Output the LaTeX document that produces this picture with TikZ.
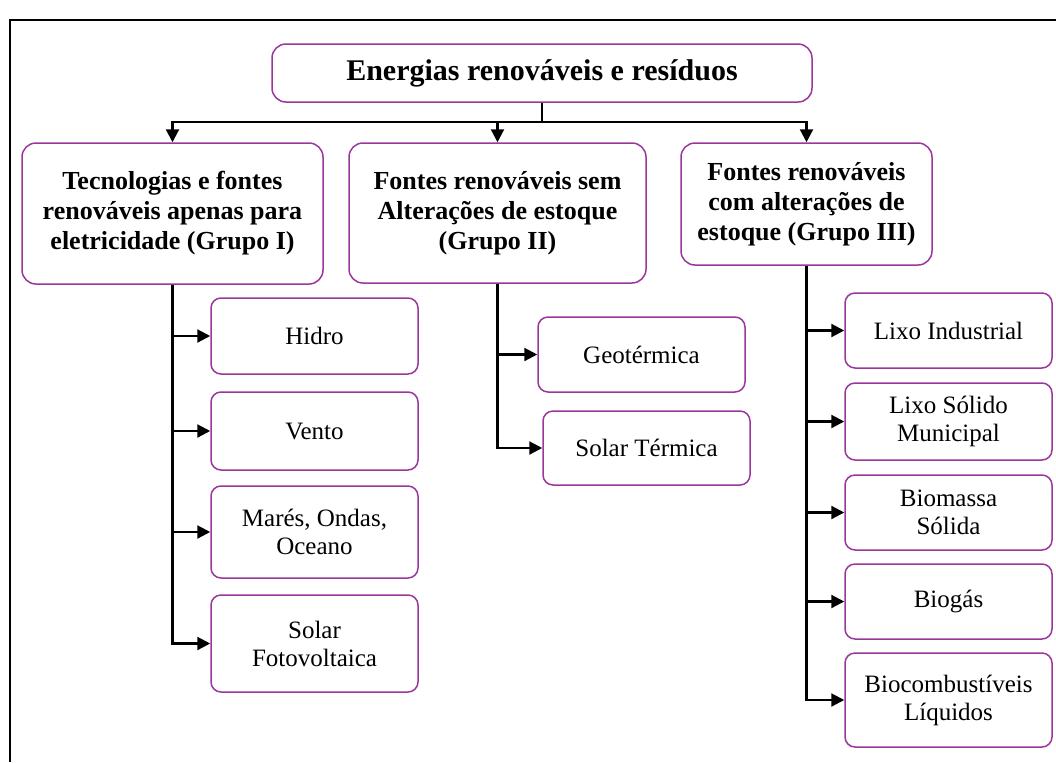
\documentclass[tikz,border=0pt]{standalone}
\usepackage{fontspec}
\setmainfont{Liberation Serif}
\usepackage{xcolor}
\usetikzlibrary{arrows.meta,positioning}
\definecolor{boxpurple}{RGB}{155,55,155}

\begin{document}
\begin{tikzpicture}[
    x=0.5pt, y=-0.5pt,
    groupbox/.style={draw=boxpurple,line width=0.75pt,rounded corners=7pt,align=center,
        font=\fontsize{13}{15}\selectfont\bfseries,inner sep=0pt},
    leafbox/.style={draw=boxpurple,line width=0.75pt,rounded corners=5pt,align=center,
        font=\fontsize{12.5}{14}\selectfont,inner sep=0pt,minimum width=103.5pt},
    arrow/.style={-{Triangle[length=6.5pt,width=6.5pt]},line width=1.1pt}
]
    \useasboundingbox (0,0) rectangle (1056,762);
    % Frame lines (left and top)
    \draw[line width=0.9pt] (10,762) -- (10,20) -- (1056,20);

    % Root
    \node[groupbox,font=\fontsize{15}{17}\selectfont\bfseries,minimum width=270pt,minimum height=29pt] (root) at (542,73) {Energias renováveis e resíduos};

    % Groups
    \node[groupbox,minimum width=150.5pt,minimum height=70.5pt] (g1) at (172.5,213.5) {Tecnologias e fontes\\renováveis apenas para\\eletricidade (Grupo I)};
    \node[groupbox,minimum width=148.5pt,minimum height=70pt] (g2) at (497.5,213) {Fontes renováveis sem\\Alterações de estoque\\(Grupo II)};
    \node[groupbox,minimum width=125.5pt,minimum height=61pt] (g3) at (806.5,204) {Fontes renováveis\\com alterações de\\estoque (Grupo III)};

    % Group I sources
    \node[leafbox,minimum height=38pt] (hidro) at (314.5,336) {Hidro};
    \node[leafbox,minimum height=39pt] (vento) at (314.5,431) {Vento};
    \node[leafbox,minimum height=46pt] (mares) at (314.5,532) {Marés, Ondas,\\Oceano};
    \node[leafbox,minimum height=48.5pt] (solarfv) at (314.5,643.5) {Solar\\Fotovoltaica};

    % Group II sources
    \node[leafbox,minimum height=37.5pt] (geo) at (641.5,354.5) {Geotérmica};
    \node[leafbox,minimum height=37pt] (solarterm) at (646.5,448) {Solar Térmica};

    % Group III sources
    \node[leafbox,minimum height=37.5pt] (lixoind) at (948.5,330.5) {Lixo Industrial};
    \node[leafbox,minimum height=38.5pt] (lixomun) at (948.5,421.5) {Lixo Sólido\\Municipal};
    \node[leafbox,minimum height=37.5pt] (biomassa) at (948.5,512.5) {Biomassa\\Sólida};
    \node[leafbox,minimum height=37.5pt] (biogas) at (948.5,601.5) {Biogás};
    \node[leafbox,minimum height=47pt] (biocomb) at (948.5,700) {Biocombustíveis\\Líquidos};

    % Root to groups
    \coordinate (bus) at (542,122);
    \draw[line width=1.1pt] (root) -- (bus);
    \draw[arrow] (bus) -| (g1);
    \draw[arrow] (bus) -| (g2);
    \draw[arrow] (bus) -| (g3);

    % Groups to sources
    \foreach \leaf in {hidro,vento,mares,solarfv}
        \draw[arrow] (g1.south) |- (\leaf);
    \foreach \leaf in {geo,solarterm}
        \draw[arrow] (g2.south) |- (\leaf);
    \foreach \leaf in {lixoind,lixomun,biomassa,biogas,biocomb}
        \draw[arrow] (g3.south) |- (\leaf);
\end{tikzpicture}
\end{document}
